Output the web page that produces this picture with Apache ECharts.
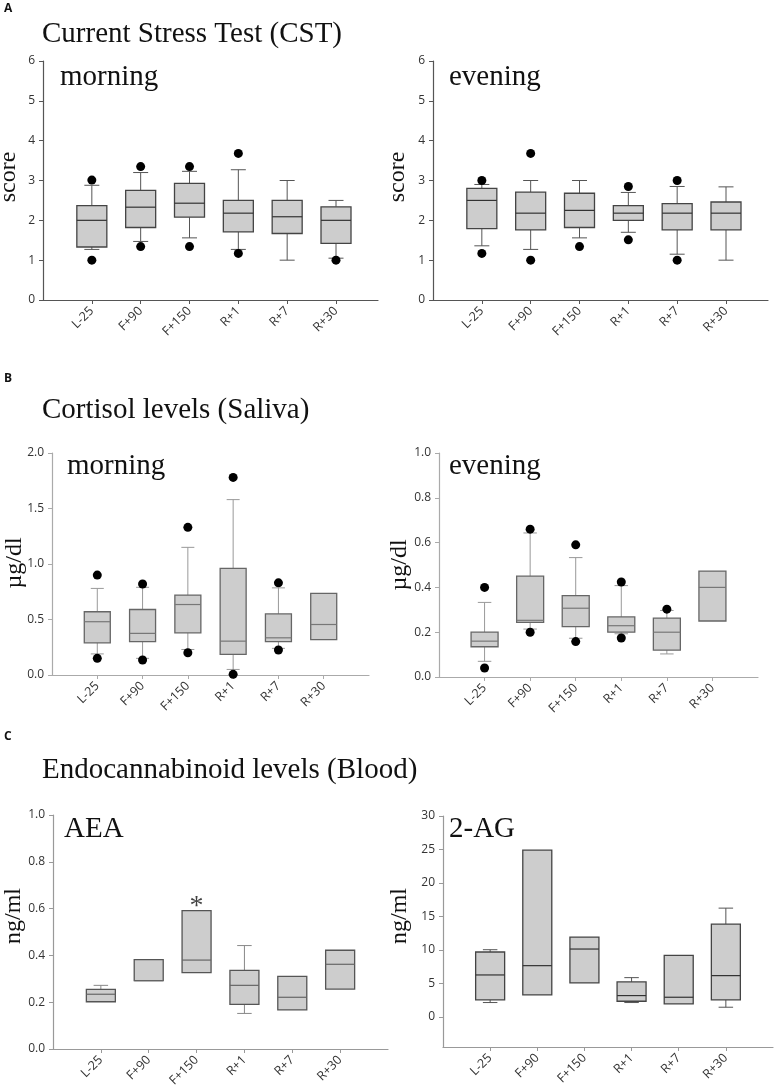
<!DOCTYPE html>
<html>
<head>
<meta charset="utf-8">
<title>CST, cortisol and endocannabinoid levels</title>
<script src="https://cdn.jsdelivr.net/npm/echarts@6/dist/echarts.min.js"></script>
<style>
html, body { margin: 0; padding: 0; background: #fff; }
#chart { width: 780px; height: 1092px; }
</style>
</head>
<body>
<div id="chart"></div>
<script>
// time points of the mission
var timePoints = ['L-25', 'F+90', 'F+150', 'R+1', 'R+7', 'R+30'];

// box stats per time point: [lower whisker, Q1, median, Q3, upper whisker]
var cstMorning = [
    [1.27, 1.33, 2.0, 2.37, 2.88],
    [1.47, 1.82, 2.33, 2.75, 3.2],
    [1.56, 2.08, 2.43, 2.93, 3.23],
    [1.27, 1.71, 2.18, 2.5, 3.27],
    [1.0, 1.67, 2.09, 2.5, 3.0],
    [1.05, 1.42, 2.0, 2.34, 2.5]
];
var cstMorningOut = [['L-25', 3.01], ['L-25', 1.0], ['F+90', 3.35], ['F+90', 1.34], ['F+150', 3.35],
    ['F+150', 1.34], ['R+1', 3.68], ['R+1', 1.17], ['R+30', 1.0]];

var cstEvening = [
    [1.36, 1.79, 2.5, 2.8, 2.9],
    [1.27, 1.76, 2.18, 2.71, 3.0],
    [1.56, 1.82, 2.25, 2.68, 3.0],
    [1.7, 2.0, 2.18, 2.37, 2.7],
    [1.15, 1.76, 2.18, 2.42, 2.85],
    [1.0, 1.76, 2.18, 2.46, 2.84]
];
var cstEveningOut = [['L-25', 3.0], ['L-25', 1.17], ['F+90', 3.68], ['F+90', 1.0], ['F+150', 1.34],
    ['R+1', 2.85], ['R+1', 1.51], ['R+7', 3.0], ['R+7', 1.0]];

var cortMorning = [
    [0.19, 0.29, 0.48, 0.57, 0.78],
    [0.15, 0.30, 0.375, 0.59, 0.79],
    [0.23, 0.38, 0.635, 0.72, 1.15],
    [0.05, 0.186, 0.305, 0.96, 1.58],
    [0.24, 0.30, 0.335, 0.55, 0.785],
    [0.318, 0.318, 0.455, 0.735, 0.735]
];
var cortMorningOut = [['L-25', 0.9], ['L-25', 0.15], ['F+90', 0.82], ['F+90', 0.135], ['F+150', 1.33],
    ['F+150', 0.2], ['R+1', 1.78], ['R+1', 0.006], ['R+7', 0.83], ['R+7', 0.225]];

var cortEvening = [
    [0.07, 0.135, 0.16, 0.2, 0.333],
    [0.214, 0.244, 0.253, 0.45, 0.643],
    [0.173, 0.225, 0.307, 0.363, 0.533],
    [0.193, 0.2, 0.229, 0.268, 0.408],
    [0.103, 0.12, 0.2, 0.263, 0.297],
    [0.25, 0.25, 0.4, 0.473, 0.473]
];
var cortEveningOut = [['L-25', 0.40], ['L-25', 0.04], ['F+90', 0.66], ['F+90', 0.2], ['F+150', 0.59],
    ['F+150', 0.158], ['R+1', 0.424], ['R+1', 0.174], ['R+7', 0.303]];

var aea = [
    [0.202, 0.202, 0.234, 0.255, 0.272],
    [0.292, 0.292, 0.292, 0.382, 0.382],
    [0.326, 0.326, 0.38, 0.591, 0.591],
    [0.152, 0.191, 0.272, 0.336, 0.442],
    [0.167, 0.167, 0.221, 0.31, 0.31],
    [0.256, 0.256, 0.362, 0.422, 0.422]
];
var aeaSignif = [['F+150', 0.61]];

var ag2 = [
    [2.14, 2.53, 6.26, 9.69, 10.03],
    [3.28, 3.28, 7.65, 24.9, 24.9],
    [5.07, 5.07, 10.13, 11.92, 11.92],
    [2.14, 2.33, 3.18, 5.22, 5.86],
    [1.94, 1.94, 2.93, 9.19, 9.19],
    [1.44, 2.53, 6.16, 13.86, 16.24]
];

// y tick labels
var cstTicks = [0, 1, 2, 3, 4, 5, 6];
var cortMorningTicks = [0, 0.5, 1.0, 1.5, 2.0];
var fracTicks = [0, 0.2, 0.4, 0.6, 0.8, 1.0];
var ag2Ticks = [0, 5, 10, 15, 20, 25, 30];

var chart = echarts.init(document.getElementById('chart'));
var serif = '"Liberation Serif", "Times New Roman", serif';
var sans = '"Open Sans", "DejaVu Sans", sans-serif';
var tickPos = timePoints.map(function (t, i) { return i + 1; });

// line colours of each panel
var dark = { border: '#444', median: '#333', whisker: '#555', axis: '#555' };
var light = { border: '#666', median: '#777', whisker: '#999', axis: '#aaa' };
var mid = { border: '#555', median: '#666', whisker: '#888', axis: '#999' };

function boxRenderer(boxW, st) {
    return function (params, api) {
        var x = api.value(0);
        var lo = api.coord([x, api.value(1)]);
        var q1 = api.coord([x, api.value(2)]);
        var md = api.coord([x, api.value(3)]);
        var q3 = api.coord([x, api.value(4)]);
        var hi = api.coord([x, api.value(5)]);
        var cx = md[0], h = boxW / 2, c = boxW / 4;
        var ws = { stroke: st.whisker, lineWidth: 1 };
        var kids = [];
        if (hi[1] < q3[1] - 0.5) {
            kids.push({ type: 'line', shape: { x1: cx, y1: hi[1], x2: cx, y2: q3[1] }, style: ws });
            kids.push({ type: 'line', shape: { x1: cx - c, y1: hi[1], x2: cx + c, y2: hi[1] }, style: ws });
        }
        if (lo[1] > q1[1] + 0.5) {
            kids.push({ type: 'line', shape: { x1: cx, y1: q1[1], x2: cx, y2: lo[1] }, style: ws });
            kids.push({ type: 'line', shape: { x1: cx - c, y1: lo[1], x2: cx + c, y2: lo[1] }, style: ws });
        }
        kids.push({
            type: 'rect',
            shape: { x: cx - h, y: q3[1], width: boxW, height: q1[1] - q3[1] },
            style: { fill: '#cdcdcd', stroke: st.border, lineWidth: 1.3 }
        });
        kids.push({
            type: 'line',
            shape: { x1: cx - h, y1: md[1], x2: cx + h, y2: md[1] },
            style: { stroke: st.median, lineWidth: 1.2 }
        });
        return { type: 'group', children: kids };
    };
}

function xAxisFor(gi, max, st) {
    return {
        type: 'value', gridIndex: gi, min: 0, max: max,
        splitLine: { show: false },
        axisLine: { onZero: false, lineStyle: { color: st.axis, width: 1.2 } },
        axisTick: { customValues: tickPos, length: 4, lineStyle: { color: st.axis } },
        axisLabel: {
            customValues: tickPos, rotate: 45, margin: 9,
            color: '#333', fontSize: 12.5, fontFamily: sans,
            formatter: function (v) { return timePoints[v - 1]; }
        }
    };
}

function yAxisFor(gi, min, max, ticks, digits, st) {
    return {
        type: 'value', gridIndex: gi, min: min, max: max,
        splitLine: { show: false },
        axisLine: { show: true, onZero: false, lineStyle: { color: st.axis, width: 1.2 } },
        axisTick: { show: true, customValues: ticks, length: 4, lineStyle: { color: st.axis } },
        axisLabel: {
            customValues: ticks, margin: 8, color: '#333', fontSize: 12, fontFamily: sans,
            formatter: function (v) { return v.toFixed(digits); }
        }
    };
}

function boxSeries(gi, stats, boxW, st) {
    return {
        type: 'custom', xAxisIndex: gi, yAxisIndex: gi,
        renderItem: boxRenderer(boxW, st),
        encode: { x: 0, y: [1, 2, 3, 4, 5] },
        data: stats.map(function (s, i) { return [i + 1].concat(s); })
    };
}

function outlierSeries(gi, pts) {
    return {
        type: 'scatter', xAxisIndex: gi, yAxisIndex: gi,
        symbolSize: 9, itemStyle: { color: '#000', opacity: 1 }, z: 5,
        data: pts.map(function (p) { return [timePoints.indexOf(p[0]) + 1, p[1]]; })
    };
}

function txt(x, y, s, size, opts) {
    opts = opts || {};
    return {
        type: 'text', x: x, y: y, rotation: opts.rot || 0,
        style: {
            text: s, fill: '#111',
            font: (opts.bold ? 'bold ' : '') + size + 'px ' + (opts.fam || serif),
            textAlign: opts.align || 'left', textVerticalAlign: 'middle'
        }
    };
}

var R = Math.PI / 2;

var option = {
    backgroundColor: '#fff',
    animation: false,
    grid: [
        { left: 43, top: 61, width: 335, height: 239 },
        { left: 433, top: 61, width: 335, height: 239 },
        { left: 52, top: 453, width: 317, height: 222 },
        { left: 439, top: 453, width: 319, height: 224 },
        { left: 53, top: 815, width: 335, height: 234 },
        { left: 443, top: 816, width: 330, height: 231 }
    ],
    xAxis: [
        xAxisFor(0, 6.86, dark), xAxisFor(1, 6.86, dark),
        xAxisFor(2, 7, light), xAxisFor(3, 7, light),
        xAxisFor(4, 7, mid), xAxisFor(5, 7, mid)
    ],
    yAxis: [
        yAxisFor(0, 0, 6, cstTicks, 0, dark), yAxisFor(1, 0, 6, cstTicks, 0, dark),
        yAxisFor(2, 0, 2, cortMorningTicks, 1, light), yAxisFor(3, 0, 1, fracTicks, 1, light),
        yAxisFor(4, 0, 1, fracTicks, 1, mid), yAxisFor(5, -4.5, 30, ag2Ticks, 0, mid)
    ],
    series: [
        boxSeries(0, cstMorning, 30, dark), outlierSeries(0, cstMorningOut),
        boxSeries(1, cstEvening, 30, dark), outlierSeries(1, cstEveningOut),
        boxSeries(2, cortMorning, 26, light), outlierSeries(2, cortMorningOut),
        boxSeries(3, cortEvening, 27, light), outlierSeries(3, cortEveningOut),
        boxSeries(4, aea, 29, mid),
        {
            type: 'scatter', xAxisIndex: 4, yAxisIndex: 4, symbolSize: 0,
            label: { show: true, position: 'inside', formatter: '*', fontSize: 28, fontFamily: serif, color: '#111' },
            data: aeaSignif.map(function (p) { return [timePoints.indexOf(p[0]) + 1, p[1]]; })
        },
        boxSeries(5, ag2, 29, dark)
    ],
    graphic: [
        txt(4, 9, 'A', 12, { bold: true, fam: sans }),
        txt(4, 379, 'B', 12, { bold: true, fam: sans }),
        txt(4, 737, 'C', 12, { bold: true, fam: sans }),
        txt(42, 34, 'Current Stress Test (CST)', 29),
        txt(42, 410, 'Cortisol levels (Saliva)', 29),
        txt(42, 770, 'Endocannabinoid levels (Blood)', 29),
        txt(60, 77, 'morning', 29),
        txt(449, 77, 'evening', 29),
        txt(67, 466, 'morning', 29),
        txt(449, 466, 'evening', 29),
        txt(64, 829, 'AEA', 29),
        txt(449, 829, '2-AG', 29),
        txt(9, 177, 'score', 24, { rot: R, align: 'center' }),
        txt(398, 177, 'score', 24, { rot: R, align: 'center' }),
        txt(15, 563, 'µg/dl', 24, { rot: R, align: 'center' }),
        txt(400, 565, 'µg/dl', 24, { rot: R, align: 'center' }),
        txt(14, 916, 'ng/ml', 24, { rot: R, align: 'center' }),
        txt(400, 916, 'ng/ml', 24, { rot: R, align: 'center' })
    ]
};

chart.setOption(option);
</script>
</body>
</html>
